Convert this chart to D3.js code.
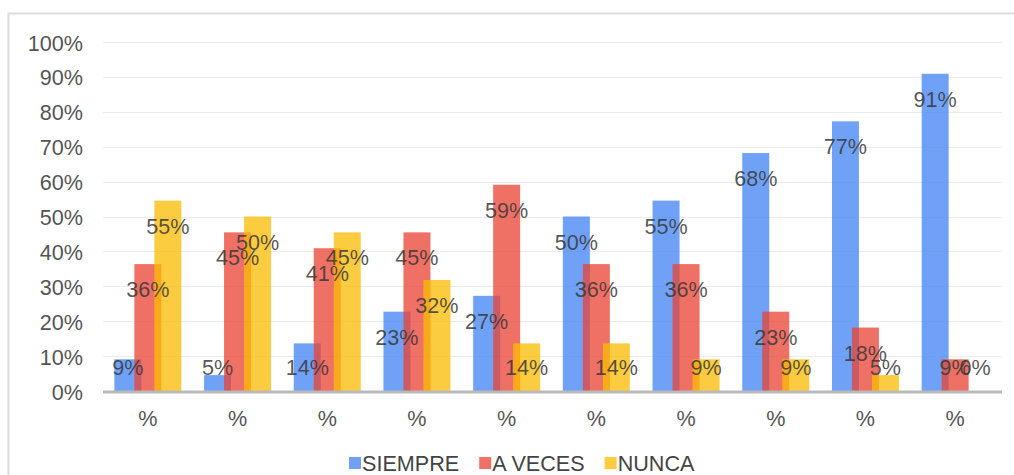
<!DOCTYPE html>
<html>
<head>
<meta charset="utf-8">
<script src="https://cdn.jsdelivr.net/npm/d3@7"></script>
<style>
  html, body { margin: 0; padding: 0; background: #fff; }
  svg { display: block; font-family: "Liberation Sans", Arial, sans-serif; }
</style>
</head>
<body>
<svg id="chart" width="1014" height="475"></svg>
<script>
// ---- data ----
const categories = ["%", "%", "%", "%", "%", "%", "%", "%", "%", "%"];
const seriesNames = ["SIEMPRE", "A VECES", "NUNCA"];
const siempre = [9.09, 4.55, 13.64, 22.73, 27.27, 50.00, 54.55, 68.18, 77.27, 90.91];
const aVeces  = [36.36, 45.45, 40.91, 45.45, 59.09, 36.36, 36.36, 22.73, 18.18, 9.09];
const nunca   = [54.55, 50.00, 45.45, 31.82, 13.64, 13.64, 9.09, 9.09, 4.55, 0];
const yTicks  = [0, 10, 20, 30, 40, 50, 60, 70, 80, 90, 100];

// ---- styles / layout ----
const colors = ["#4285f4", "#ea4335", "#fbbc04"];
const barOpacity = 0.76;
const fontSize = 21.6;
const series = [siempre, aVeces, nunca];

const svg = d3.select("#chart");

// outer frame
svg.append("path")
  .attr("d", "M8.5,475 L8.5,13.5 L1014,13.5")
  .attr("fill", "none").attr("stroke", "#dcdcdc").attr("stroke-width", 2);

const x = d3.scaleBand().domain(d3.range(categories.length)).range([103, 1000]).padding(0);
const y = d3.scaleLinear().domain([0, 100]).range([391, 42]);

const barW = 27, barOff = 20;

// gridlines
svg.append("g").selectAll("line").data(yTicks.filter(t => t > 0)).join("line")
  .attr("x1", 103).attr("x2", 1002)
  .attr("y1", d => Math.round(y(d)) + 0.5).attr("y2", d => Math.round(y(d)) + 0.5)
  .attr("stroke", "#ececec").attr("stroke-width", 1);

// y tick labels
svg.append("g").selectAll("text").data(yTicks).join("text")
  .attr("x", 83).attr("y", d => y(d) + 1)
  .attr("text-anchor", "end").attr("dominant-baseline", "central")
  .attr("font-size", fontSize).attr("fill", "#555")
  .text(d => d + "%");

// bars
series.forEach((vals, si) => {
  svg.append("g").selectAll("rect").data(vals).join("rect")
    .attr("x", (d, i) => x(i) + x.bandwidth() / 2 + (si - 1) * barOff - barW / 2)
    .attr("y", d => y(d))
    .attr("width", barW)
    .attr("height", d => y(0) - y(d))
    .attr("fill", colors[si])
    .attr("fill-opacity", barOpacity);
});

// axis line
svg.append("line")
  .attr("x1", 103).attr("x2", 1002).attr("y1", y(0) + 1).attr("y2", y(0) + 1)
  .attr("stroke", "#b9b9b9").attr("stroke-width", 3);

// value labels
const fmt = d3.format(".0%");
series.forEach((vals, si) => {
  svg.append("g").selectAll("text").data(vals).join("text")
    .attr("x", (d, i) => x(i) + x.bandwidth() / 2 + (si - 1) * barOff)
    .attr("y", d => Math.min(y(d) + 25.5, 367.5))
    .attr("text-anchor", "middle").attr("dominant-baseline", "central")
    .attr("font-size", fontSize).attr("fill", "#383838").attr("fill-opacity", 0.85)
    .text(d => fmt(d / 100));
});

// category labels
svg.append("g").selectAll("text").data(categories).join("text")
  .attr("x", (d, i) => x(i) + x.bandwidth() / 2)
  .attr("y", 418)
  .attr("text-anchor", "middle").attr("dominant-baseline", "central")
  .attr("font-size", fontSize).attr("fill", "#555")
  .text(d => d);

// legend
const lg = svg.append("g");
let lx = 349;
seriesNames.forEach((name, si) => {
  lg.append("rect").attr("x", lx).attr("y", 457).attr("width", 12).attr("height", 12)
    .attr("fill", colors[si]).attr("fill-opacity", barOpacity);
  const t = lg.append("text").attr("x", lx + 13).attr("y", 470.5)
    .attr("font-size", fontSize).attr("fill", "#444").text(name);
  lx += 13 + t.node().getComputedTextLength() + 20;
});
</script>
</body>
</html>
